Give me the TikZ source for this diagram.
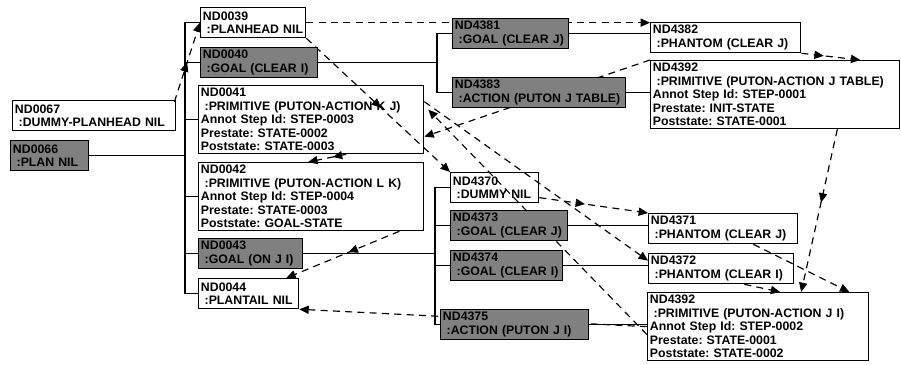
\documentclass[tikz,border=0pt]{standalone}
\usepackage{fontspec}
\setmainfont{Liberation Sans}
\usetikzlibrary{arrows.meta,decorations.markings}
\pgfdeclarelayer{background}
\pgfsetlayers{background,main}
\newcommand{\ind}{\hspace*{0.3em}}
\frenchspacing

\begin{document}
\begin{tikzpicture}[x=0.03cm, y=-0.03cm,
    plan/.style={draw, line width=1.1pt, anchor=north west, align=left, inner xsep=2pt, inner ysep=1pt,
      minimum height=0.9cm, font=\bfseries\fontsize{10.5}{11.5}\selectfont},
    prim/.style={plan, minimum height=2.04cm},
    goal/.style={plan, fill=black!50},
    tree/.style={line width=1.4pt},
    dep/.style={dash pattern=on 6pt off 4.5pt, line width=1pt, -{Triangle[length=8pt,width=7pt]}},
    midarr/.style={postaction={decorate}, decoration={markings,
      mark=at position #1 with {\arrow{Triangle[length=8pt,width=7pt]}}}}
  ]
  \useasboundingbox (0,0) rectangle (901,364);

  % top level
  \node[plan, text width=4.75cm] (nd67) at (12,100) {ND0067\\\ind:DUMMY-PLANHEAD~NIL};
  \node[goal, text width=2.20cm] (ndroot) at (10,140) {ND0066\\\ind:PLAN~NIL};

  \node[plan, text width=3.01cm] (nd39) at (200,7) {ND0039\\\ind:PLANHEAD~NIL};
  \node[goal, text width=3.37cm] (nd40) at (200,47) {ND0040\\\ind:GOAL~(CLEAR~I)};
  \node[prim, text width=6.61cm] (nd41) at (198,85) {ND0041\\\ind:PRIMITIVE (PUTON-ACTION K J)\\Annot Step Id: STEP-0003\\Prestate: STATE-0002\\Poststate: STATE-0003};
  \node[prim, text width=6.61cm] (nd42) at (198,162) {ND0042\\\ind:PRIMITIVE (PUTON-ACTION L K)\\Annot Step Id: STEP-0004\\Prestate: STATE-0003\\Poststate: GOAL-STATE};
  \node[goal, text width=2.98cm] (nd43) at (198,238) {ND0043\\\ind:GOAL~(ON~J~I)};
  \node[plan, text width=2.86cm] (nd44) at (198,278) {ND0044\\\ind:PLANTAIL~NIL};

  % expansion of ND0040
  \node[goal, text width=3.34cm] (nd4381) at (452,18) {ND4381\\\ind:GOAL~(CLEAR~J)};
  \node[goal, text width=5.05cm] (nd4383) at (452,77) {ND4383\\\ind:ACTION (PUTON J TABLE)};
  \node[plan, text width=4.36cm] (nd4382) at (650,22) {ND4382\\\ind:PHANTOM (CLEAR J)};
  \node[prim, text width=7.33cm] (nd4392a) at (650,60) {ND4392\\\ind:PRIMITIVE (PUTON-ACTION J TABLE)\\Annot Step Id: STEP-0001\\Prestate: INIT-STATE\\Poststate: STATE-0001};

  % expansion of ND0043
  \node[plan, text width=2.50cm] (nd4370) at (450,172) {ND4370\\\ind:DUMMY~NIL};
  \node[goal, text width=3.37cm] (nd4373) at (450,210) {ND4373\\\ind:GOAL~(CLEAR~J)};
  \node[goal, text width=3.22cm] (nd4374) at (450,250) {ND4374\\\ind:GOAL~(CLEAR~I)};
  \node[goal, text width=4.30cm] (nd4375) at (440,309) {ND4375\\\ind:ACTION (PUTON J I)};
  \node[plan, text width=4.33cm] (nd4371) at (648,213) {ND4371\\\ind:PHANTOM (CLEAR J)};
  \node[plan, text width=4.21cm] (nd4372) at (648,253) {ND4372\\\ind:PHANTOM (CLEAR I)};
  \node[prim, text width=6.49cm] (nd4392b) at (647,292) {ND4392\\\ind:PRIMITIVE (PUTON-ACTION J I)\\Annot Step Id: STEP-0002\\Prestate: STATE-0001\\Poststate: STATE-0002};

  \coordinate (trunk0) at (185,0);
  \coordinate (trunk1) at (437,0);
  \coordinate (trunk2) at (435,0);

  \begin{pgfonlayer}{background}
    % hierarchy
    \foreach \c in {nd39,nd40,nd41,nd42,nd43,nd44}
      \draw[tree] (ndroot.east) -- (ndroot.east -| trunk0) |- (\c.west);
    \foreach \c in {nd4381,nd4383}
      \draw[tree] (nd40.east) -- (nd40.east -| trunk1) |- (\c.west);
    \foreach \c in {nd4370,nd4373,nd4374,nd4375}
      \draw[tree] (nd43.east) -- (nd43.east -| trunk2) |- (\c.west);
    \draw[tree] (nd4381.east) -- (nd4381.east -| nd4382.west);
    \draw[tree] (nd4383.east) -- (nd4383.east -| nd4392a.west);
    \draw[tree] (nd4373.east) -- (nd4373.east -| nd4371.west);
    \draw[tree] (nd4374.east) -- (nd4374.east -| nd4372.west);
    \draw[tree] (nd4375.east) -- (nd4375.east -| nd4392b.west);

    % ordering links
    \draw[dep, midarr=0.5] ([shift={(-2,2)}]nd67.north east) -- (nd39.west);
    \draw[dep] (nd39.east) -- (nd39.east -| nd4382.west);
    \draw[dep, midarr=0.52] (nd39.south east) -- (nd4370.north west);
    \draw[dep, midarr=0.35] ([shift={(35,0)}]nd41.south) -- ([shift={(-3,0)}]nd42.north);
    \draw[dep, midarr=0.45] ([shift={(-25,0)}]nd42.south east) -- ([shift={(-13,0)}]nd44.north east);
    \draw[dep] (nd4392a.north west) -- ([shift={(0,17)}]nd41.east);
    \draw[dep] ([shift={(0,8)}]nd4392b.west) -- ([shift={(4,-10)}]nd41.east);
    \draw[dep] ([shift={(0,-18)}]nd41.east) -- ([shift={(0,-8)}]nd4372.west);
    \draw[dep, midarr=0.42] ([shift={(0,10)}]nd4370.east) -- (nd4371.north west);
    \draw[dep, midarr=0.38] (nd4382.south east) -- ([shift={(-40,0)}]nd4392a.north east);
    \draw[dep, midarr=0.45] ([shift={(-63,0)}]nd4392a.south east) -- ([shift={(43,0)}]nd4392b.north);
    \draw[dep] ([shift={(-45,0)}]nd4371.south east) -- ([shift={(-20,0)}]nd4392b.north east);
    \draw[dep] ([shift={(-50,0)}]nd4372.south east) -- ([shift={(22,0)}]nd4392b.north);
    \draw[dep] (nd4392b.west) -- (nd44.south east);
  \end{pgfonlayer}
\end{tikzpicture}
\end{document}
